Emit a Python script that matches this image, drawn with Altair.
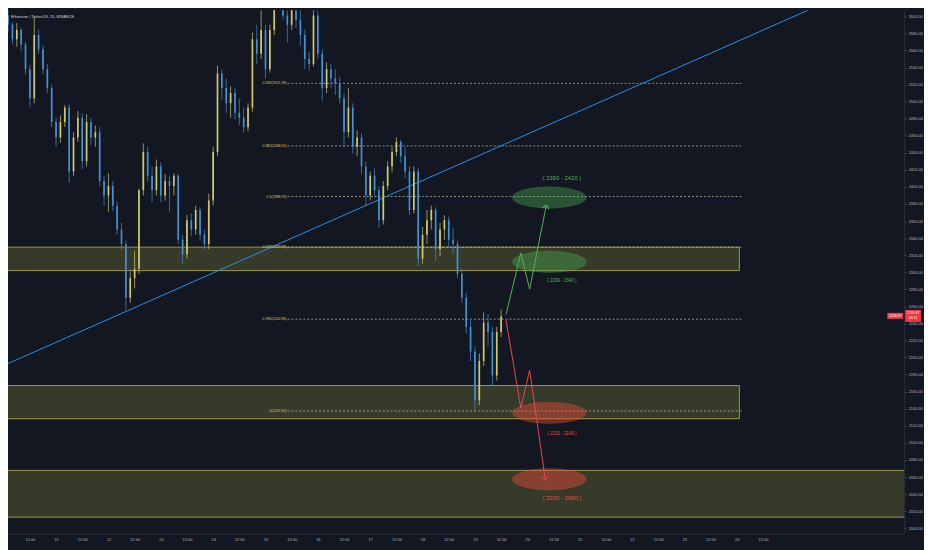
import altair as alt
import pandas as pd

TITLE = "Ethereum / TetherUS, 15, BINANCE"

# ---- candles (2h aggregation) ----
CANDLE_START = 10.0833   # day of first candle
CANDLE_STEP = 1 / 12     # 2 hours
FIRST_OPEN = 2601
close = [2590, 2573, 2584, 2567, 2538, 2504, 2578, 2561, 2538, 2516,
         2476, 2458, 2476, 2493, 2418, 2458, 2481, 2430, 2476, 2458,
         2464, 2407, 2390, 2401, 2378, 2350, 2333, 2270, 2293, 2304,
         2396, 2441, 2413, 2396, 2424, 2390, 2407, 2401, 2413, 2338,
         2321, 2361, 2350, 2373, 2344, 2333, 2384, 2441, 2533, 2516,
         2498, 2510, 2487, 2481, 2470, 2493, 2573, 2556, 2584, 2538,
         2584, 2618, 2630, 2601, 2590, 2613, 2596, 2578, 2550, 2544,
         2601, 2556, 2516, 2538, 2527, 2521, 2504, 2464, 2493, 2447,
         2458, 2424, 2390, 2413, 2396, 2361, 2401, 2424, 2441, 2453,
         2436, 2418, 2373, 2418, 2316, 2344, 2361, 2373, 2327, 2350,
         2361, 2338, 2333, 2298, 2270, 2236, 2207, 2150, 2196, 2241,
         2230, 2179, 2230, 2248]
high = [2607, 2593, 2592, 2587, 2570, 2543, 2599, 2584, 2566, 2544,
        2520, 2481, 2484, 2496, 2497, 2464, 2489, 2486, 2485, 2481,
        2472, 2470, 2413, 2416, 2407, 2383, 2358, 2337, 2301, 2325,
        2398, 2451, 2447, 2424, 2432, 2429, 2415, 2413, 2416, 2415,
        2344, 2367, 2369, 2378, 2376, 2350, 2392, 2447, 2542, 2538,
        2527, 2518, 2516, 2504, 2493, 2498, 2581, 2590, 2607, 2590,
        2590, 2630, 2640, 2635, 2607, 2621, 2618, 2607, 2584, 2558,
        2618, 2607, 2561, 2546, 2544, 2538, 2529, 2510, 2516, 2498,
        2466, 2463, 2430, 2418, 2422, 2401, 2407, 2430, 2447, 2458,
        2455, 2447, 2424, 2424, 2422, 2353, 2373, 2378, 2376, 2358,
        2367, 2365, 2352, 2337, 2304, 2276, 2244, 2213, 2205, 2253,
        2251, 2236, 2236, 2256]
low = [2582, 2567, 2564, 2559, 2532, 2493, 2498, 2556, 2532, 2510,
       2470, 2447, 2452, 2470, 2405, 2413, 2453, 2421, 2424, 2449,
       2447, 2401, 2378, 2371, 2372, 2344, 2326, 2256, 2264, 2281,
       2298, 2390, 2406, 2382, 2390, 2382, 2384, 2371, 2390, 2333,
       2310, 2316, 2342, 2344, 2337, 2327, 2327, 2378, 2436, 2502,
       2487, 2481, 2479, 2472, 2464, 2465, 2488, 2544, 2550, 2527,
       2534, 2578, 2613, 2596, 2569, 2584, 2586, 2565, 2538, 2536,
       2541, 2550, 2501, 2510, 2516, 2508, 2498, 2447, 2458, 2439,
       2436, 2415, 2378, 2384, 2388, 2352, 2356, 2396, 2417, 2436,
       2428, 2410, 2367, 2369, 2308, 2310, 2333, 2350, 2313, 2319,
       2338, 2329, 2321, 2293, 2264, 2228, 2196, 2137, 2144, 2190,
       2213, 2167, 2173, 2224]

# ---- fibonacci retracement ----
fib_levels = ["0.236", "0.382", "0.5", "0.618", "0.786", "1"]
fib_prices = [2521.39, 2448.01, 2388.70, 2329.39, 2244.96, 2137.40]
fib_start, fib_end = 15.42, 24.09

# ---- zones ----
zone_x1 = [9.9, 9.9, 9.9]
zone_x2 = [24.05, 24.05, 28.0]
zone_lo = [2301.9, 2128.3, 2013.0]
zone_hi = [2329.4, 2167.2, 2067.8]

# ---- trend line ----
trend_t = [10.082, 25.36]
trend_p = [2193, 2607]

# ---- target ellipses ----
ell_t = [20.42, 20.42, 20.42, 20.42]
ell_p = [2387.6, 2312.2, 2135.2, 2057.5]
ell_kind = ["green", "green", "red", "red"]

# ---- projected paths ----
green_t = [19.595, 19.876, 20.045, 20.363]
green_p = [2250.5, 2322.5, 2280.2, 2378.5]
red_t = [19.595, 19.876, 20.045, 20.345]
red_p = [2243.7, 2140.9, 2185.4, 2056.4]

# ---- labels ----
lab_text = ["( 2390 - 2420 )", "( 2290 - 2340 )", "( 2120 - 2140 )", "( 2030 - 2080 )"]
lab_t = [20.66, 20.66, 20.66, 20.66]
lab_p = [2410.4, 2289.4, 2110.0, 2035.8]
lab_kind = ["green", "green", "red", "red"]
lab_size = [6, 4.5, 4.5, 6]

last_price = 2248.87
last_text = "2248.87"
countdown = "03:11"

time_ticks = [10.5, 11, 11.5, 12, 12.5, 13, 13.5, 14, 14.5, 15, 15.5, 16, 16.5,
              17, 17.5, 18, 18.5, 19, 19.5, 20, 20.5, 21, 21.5, 22, 22.5, 23,
              23.5, 24, 24.5]
price_ticks = list(range(2000, 2601, 20))

# ---------------- build ----------------
BG = "#131722"
UP, DOWN = "#cfc96a", "#4290d4"
GREEN, RED = "#52b05e", "#e5484d"
FONT = "Liberation Sans"
W, H = 904, 528

xscale = alt.Scale(domain=[10.082, 27.198], nice=False, zero=False)
yscale = alt.Scale(domain=[1993.5, 2606.9], nice=False, zero=False)
xaxis = alt.Axis(values=time_ticks,
                 labelExpr="datum.value % 1 == 0 ? format(datum.value, 'd') : '12:00'",
                 title=None, grid=False, ticks=False, domainColor="#2a2e39",
                 labelColor="#b2b5be", labelFontSize=4, labelFont=FONT,
                 labelPadding=4, labelOverlap=False, labelFlush=False,
                 minExtent=14, maxExtent=14)
yaxis = alt.Axis(orient="right", values=price_ticks, format=".2f", title=None,
                 grid=False, tickSize=2, tickColor="#4a4e59", domainColor="#2a2e39",
                 labelColor="#b2b5be", labelFontSize=4, labelFont=FONT,
                 labelPadding=2, labelOverlap=False, minExtent=20, maxExtent=20)


def X(f):
    return alt.X(f, type="quantitative", scale=xscale, axis=xaxis)


def Y(f):
    return alt.Y(f, type="quantitative", scale=yscale, axis=yaxis)


opens = [FIRST_OPEN] + close[:-1]
candles = pd.DataFrame({
    "t": [CANDLE_START + i * CANDLE_STEP for i in range(len(close))],
    "open": opens, "close": close, "high": high, "low": low,
    "dir": ["up" if c >= o else "down" for o, c in zip(opens, close)],
})
cscale = alt.Scale(domain=["up", "down"], range=[UP, DOWN])

zones = pd.DataFrame({"x1": zone_x1, "x2": zone_x2, "lo": zone_lo, "hi": zone_hi})
zone_layer = alt.Chart(zones).mark_rect(
    fill="#8c8a3c", fillOpacity=0.3, stroke="#9c9a4a", strokeWidth=1, clip=True
).encode(x=X("x1"), x2="x2", y=Y("lo"), y2="hi")

fib = pd.DataFrame({
    "p": fib_prices,
    "label": [f"{l}({p:.2f})" for l, p in zip(fib_levels, fib_prices)],
    "x0": [fib_start] * len(fib_prices), "x1": [fib_end] * len(fib_prices),
})
fib_lines = alt.Chart(fib).mark_rule(
    color="#c8c8a8", strokeWidth=0.8, strokeDash=[2, 2], opacity=0.85, clip=True
).encode(x=X("x0"), x2="x1", y=Y("p"))
fib_text = alt.Chart(fib).mark_text(
    align="right", baseline="middle", dx=-1, fontSize=3.6, font=FONT, color="#d6d36a"
).encode(x=X("x0"), y=Y("p"), text="label:N")

trend = alt.Chart(pd.DataFrame({"t": trend_t, "p": trend_p})).mark_line(
    color="#2d8fe0", strokeWidth=1, clip=True
).encode(x=X("t"), y=Y("p"))

wicks = alt.Chart(candles).mark_rule(strokeWidth=0.7, clip=True).encode(
    x=X("t"), y=Y("low"), y2="high",
    color=alt.Color("dir:N", scale=cscale, legend=None))
bodies = alt.Chart(candles).mark_rule(strokeWidth=1.7, strokeCap="butt", clip=True).encode(
    x=X("t"), y=Y("open"), y2="close",
    color=alt.Color("dir:N", scale=cscale, legend=None))

ELLIPSE = "M-1,0A1,0.295,0,1,1,1,0A1,0.295,0,1,1,-1,0Z"
ell = pd.DataFrame({"t": ell_t, "p": ell_p, "kind": ell_kind})
ell_green = alt.Chart(ell).transform_filter("datum.kind == 'green'").mark_point(
    shape=ELLIPSE, size=5625, filled=True, color="#4caf50", opacity=0.4
).encode(x=X("t"), y=Y("p"))
ell_red = alt.Chart(ell).transform_filter("datum.kind == 'red'").mark_point(
    shape=ELLIPSE, size=5625, filled=True, color="#e74c3c", opacity=0.45
).encode(x=X("t"), y=Y("p"))

gpath = pd.DataFrame({"t": green_t, "p": green_p, "o": list(range(len(green_t)))})
rpath = pd.DataFrame({"t": red_t, "p": red_p, "o": list(range(len(red_t)))})
gline = alt.Chart(gpath).mark_line(color=GREEN, strokeWidth=1).encode(
    x=X("t"), y=Y("p"), order="o:Q")
rline = alt.Chart(rpath).mark_line(color=RED, strokeWidth=1).encode(
    x=X("t"), y=Y("p"), order="o:Q")
CHEVRON = "M-1,1L0,0L1,1"
ghead = alt.Chart(gpath.tail(1)).mark_point(
    shape=CHEVRON, size=49, filled=False, color=GREEN, strokeWidth=1, angle=11, opacity=1
).encode(x=X("t"), y=Y("p"))
rhead = alt.Chart(rpath.tail(1)).mark_point(
    shape=CHEVRON, size=49, filled=False, color=RED, strokeWidth=1, angle=172, opacity=1
).encode(x=X("t"), y=Y("p"))

labs = pd.DataFrame({"text": lab_text, "t": lab_t, "p": lab_p,
                     "kind": lab_kind, "size": lab_size})
lab_layers = []
for kind, col in (("green", GREEN), ("red", RED)):
    for sz in (6, 4.5):
        lab_layers.append(
            alt.Chart(labs).transform_filter(
                f"datum.kind == '{kind}' && datum.size == {sz}"
            ).mark_text(align="center", baseline="middle", fontSize=sz, font=FONT, color=col)
            .encode(x=X("t"), y=Y("p"), text="text:N"))

price_df = pd.DataFrame({"p": [last_price], "a": [last_text], "b": [countdown]})
BOX_AXIS = "M-1,-0.75L1,-0.75L1,0.75L-1,0.75Z"
BOX_SMALL = "M-1,-0.38L1,-0.38L1,0.38L-1,0.38Z"
tag_axis = alt.Chart(price_df).mark_point(
    shape=BOX_AXIS, size=256, filled=True, color="#f23645", opacity=1
).encode(x=alt.value(W + 9), y=Y("p"))
tag_axis_t1 = alt.Chart(price_df).mark_text(
    fontSize=3.6, font=FONT, color="white", dy=-2.5
).encode(x=alt.value(W + 9), y=Y("p"), text="a:N")
tag_axis_t2 = alt.Chart(price_df).mark_text(
    fontSize=3.6, font=FONT, color="white", dy=2.5
).encode(x=alt.value(W + 9), y=Y("p"), text="b:N")
tag_left = alt.Chart(price_df).mark_point(
    shape=BOX_SMALL, size=256, filled=True, color="#f23645", opacity=1
).encode(x=alt.value(W - 9), y=Y("p"))
tag_left_t = alt.Chart(price_df).mark_text(
    fontSize=3.6, font=FONT, color="white"
).encode(x=alt.value(W - 9), y=Y("p"), text="a:N")

title = alt.Chart(pd.DataFrame({"text": [TITLE]})).mark_text(
    align="left", baseline="middle", fontSize=4, font=FONT, color="#d1d4dc"
).encode(x=alt.value(3), y=alt.value(7), text="text:N")

chart = alt.layer(
    zone_layer, fib_lines, trend, wicks, bodies, fib_text,
    ell_green, ell_red, gline, rline, ghead, rhead, *lab_layers,
    tag_left, tag_left_t, tag_axis, tag_axis_t1, tag_axis_t2, title
).properties(width=W, height=H, background=BG, padding=0).configure_view(strokeWidth=0)

chart.save("out.html", embed_options={"renderer": "svg", "actions": False})
